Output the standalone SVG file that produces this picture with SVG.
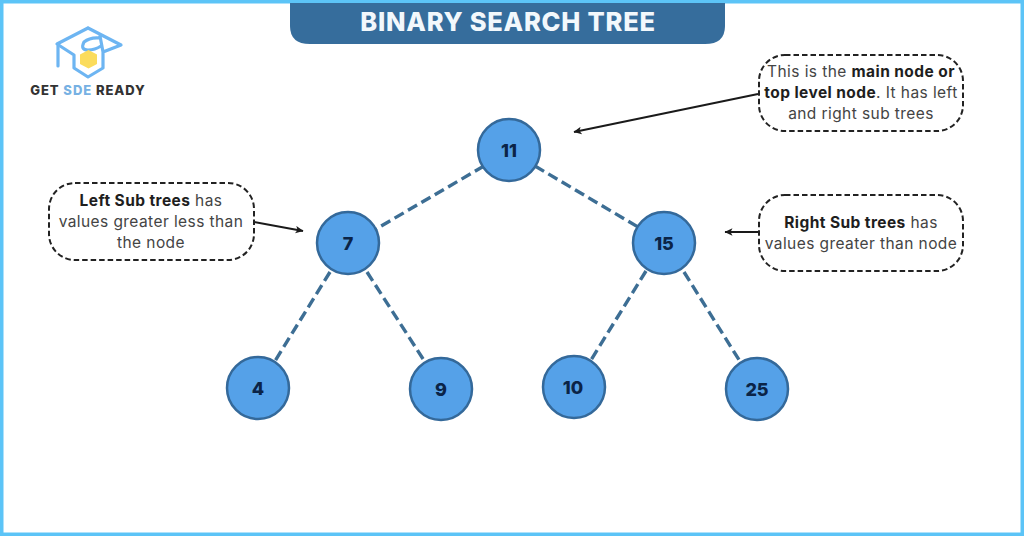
<svg xmlns="http://www.w3.org/2000/svg" width="1024" height="536" viewBox="0 0 1024 536">
<style>
text{font-family:"Inter","Open Sans","Liberation Sans",sans-serif}
.node circle{fill:#55a1e8;stroke:#34699a;stroke-width:2.5}
.node text{font-size:18px;font-weight:800;fill:#0b2447;text-anchor:middle}
.edge{stroke:#3d6e94;stroke-width:3.4;stroke-dasharray:10.5 5;fill:none}
.arrow{stroke:#1a1a1a;stroke-width:2;fill:none;marker-end:url(#ah)}
.box rect{fill:#fff;stroke:#222;stroke-width:2;stroke-dasharray:5.5 3}
.box text{font-size:15.500px;fill:#444;text-anchor:middle;letter-spacing:.42px}
.box tspan.b{font-weight:700;fill:#1e1e1e}
.logo{fill:none;stroke:#6db5f2;stroke-width:3.2;stroke-linejoin:round;stroke-linecap:round}
</style>
<defs>
<marker id="ah" markerWidth="9" markerHeight="8" refX="7.5" refY="4" orient="auto" markerUnits="userSpaceOnUse"><path d="M8 4L0 0.2L2 4L0 7.8Z" fill="#1a1a1a"/></marker>
</defs>
<rect width="1024" height="536" fill="#fff"/>
<rect x="1.500" y="1.500" width="1021" height="533" fill="none" stroke="#5cc4f7" stroke-width="4"/>
<g id="title">
<path d="M290 3H725V26Q725 44 705 44H310Q290 44 290 26Z" fill="#366d9c"/>
<text x="508" y="30.500" font-size="25.500" font-weight="800" fill="#f2f8fc" text-anchor="middle" letter-spacing=".75">BINARY SEARCH TREE</text>
</g>
<g id="logo">
<path class="logo" d="M88 28L57 44L74 55V68L88 77L103 68V52L121 45L88 28M100 36L103 52M100 38Q90 37 84 42Q80 50 88 50Q95 50 101 46"/>
<path class="logo" stroke-width="2" d="M58 46V66"/>
<polygon points="88.500,50 97,54.500 97,64 88.500,68.500 80,64 80,54.500" fill="#fbdc5c"/>
<text x="88" y="95" font-size="13" font-weight="800" fill="#333" text-anchor="middle" letter-spacing=".95">GET <tspan fill="#77b1e3">SDE</tspan> READY</text>
</g>
<g id="connectors">
<line class="edge" x1="484" y1="166" x2="376" y2="229"/>
<line class="edge" x1="535" y1="166" x2="638" y2="227"/>
<line class="edge" x1="330" y1="272" x2="275" y2="361"/>
<line class="edge" x1="367" y1="272" x2="425" y2="362"/>
<line class="edge" x1="646" y1="271" x2="591" y2="360"/>
<line class="edge" x1="684" y1="272" x2="741" y2="363"/>
<line class="arrow" x1="758" y1="94" x2="574" y2="132"/>
<line class="arrow" x1="254" y1="222" x2="303" y2="231"/>
<line class="arrow" x1="758" y1="232" x2="725" y2="232"/>
</g>
<g class="node" id="n11"><circle cx="509" cy="150" r="31"/><text x="509" y="156.500">11</text></g>
<g class="node" id="n7"><circle cx="348" cy="243" r="31"/><text x="348" y="249.500">7</text></g>
<g class="node" id="n15"><circle cx="664" cy="243" r="31"/><text x="664" y="249.500">15</text></g>
<g class="node" id="n4"><circle cx="258" cy="388" r="31"/><text x="258" y="395">4</text></g>
<g class="node" id="n9"><circle cx="441" cy="389" r="31"/><text x="441" y="396">9</text></g>
<g class="node" id="n10"><circle cx="574" cy="387" r="31"/><text x="573" y="393.500">10</text></g>
<g class="node" id="n25"><circle cx="757" cy="389" r="31"/><text x="757" y="396">25</text></g>
<g class="box" id="note-top">
<rect x="759" y="55" width="204" height="76" rx="26"/>
<text x="861" y="77">This is the <tspan class="b">main node or</tspan></text>
<text x="861" y="98"><tspan class="b">top level node</tspan>. It has left</text>
<text x="861" y="119">and right sub trees</text>
</g>
<g class="box" id="note-left">
<rect x="49" y="183" width="205" height="77" rx="26"/>
<text x="151" y="206"><tspan class="b">Left Sub trees</tspan> has</text>
<text x="151" y="227">values greater less than</text>
<text x="151" y="248">the node</text>
</g>
<g class="box" id="note-right">
<rect x="759" y="195" width="204" height="76" rx="26"/>
<text x="861" y="228"><tspan class="b">Right Sub trees</tspan> has</text>
<text x="861" y="249">values greater than node</text>
</g>
</svg>
